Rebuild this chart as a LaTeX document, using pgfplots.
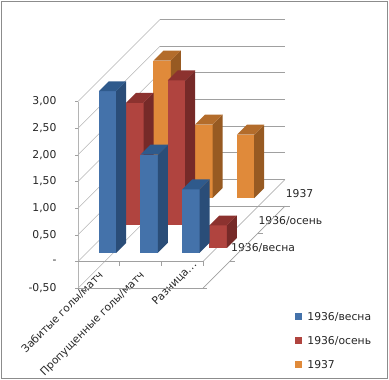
\documentclass[border=0pt]{standalone}
\usepackage{pgfplots}
\usepackage{fontspec}
\setmainfont{DejaVu Sans}
\pgfplotsset{compat=1.18}
\definecolor{bf}{HTML}{4472AA}\definecolor{bs}{HTML}{2A4D78}\definecolor{bt}{HTML}{2F5A8C}
\definecolor{rf}{HTML}{B0443F}\definecolor{rs}{HTML}{762A28}\definecolor{rt}{HTML}{8C322F}
\definecolor{of}{HTML}{E08A3A}\definecolor{os}{HTML}{975A22}\definecolor{ot}{HTML}{B36C2B}
\definecolor{wl}{HTML}{B4B4B4}\definecolor{gl}{HTML}{A0A0A0}
% x0 x1 y0 y1 bottom top colourprefix
\newcommand{\barfaces}[7]{%
\addplot3[fill=#7f,draw=none,forget plot] coordinates {(#1,#3,#5) (#2,#3,#5) (#2,#3,#6) (#1,#3,#6)};
\addplot3[fill=#7s,draw=none,forget plot] coordinates {(#2,#3,#5) (#2,#4,#5) (#2,#4,#6) (#2,#3,#6)};
\addplot3[fill=#7t,draw=none,forget plot] coordinates {(#1,#3,#6) (#2,#3,#6) (#2,#4,#6) (#1,#4,#6)};
}
\newcommand{\wline}[3][wl]{\addplot3[draw=#1,line width=#2,forget plot] coordinates {#3};}
\newcommand{\raz}{Разница.\kern0.5pt.\kern0.5pt.\hspace*{-15pt}}
\begin{document}
\begin{tikzpicture}[x=1pt,y=1pt]
\path[use as bounding box] (0,0) rectangle (389,380);
\draw[draw=gray!90,line width=0.9pt] (1,1.5) rectangle (387,379);
\begin{axis}[
  anchor=origin, at={(78pt,118.5pt)},
  x={(41.67pt,0pt)}, y={(27.33pt,27.33pt)}, z={(0pt,53.33pt)},
  xmin=0,xmax=3,ymin=0,ymax=3,zmin=-0.5,zmax=3,
  clip=false,
  axis line style={draw=none},
  major tick length=0pt,
  tick style={draw=none},
  ztick={-0.5,0,0.5,1,1.5,2,2.5,3},
  zticklabels={{-0,50},{-\hspace{6pt}},{0,50},{1,00},{1,50},{2,00},{2,50},{3,00}},
  xtick={0.5,1.5,2.5},
  xticklabels={{Забитые голы/матч},{Пропущенные голы/матч},{\raz}},
  ytick={0.5,1.5,2.5},
  yticklabels={{1936/весна},{1936/осень},{1937}},
  tick label style={font=\fontsize{10.8}{12}\selectfont,text=black!85},
  xticklabel style={rotate=45,anchor=north east,xshift=15.5pt,yshift=17pt,font=\fontsize{10.7}{12}\selectfont},
  yticklabel style={anchor=west,xshift=11pt,yshift=26.5pt},
  zticklabel style={anchor=east,xshift=-18pt},
  legend style={at={(axis cs:5.2,0,0)},anchor=north west,draw=none,fill=none,
    font=\fontsize{10.8}{12}\selectfont,text=black!85,row sep=10.5pt,inner sep=0pt,
    yshift=-48.5pt},
  legend cell align=left,
  legend image code/.code={\fill[#1,draw=none] (0pt,-3.5pt) rectangle (7pt,3.5pt);},
]
\addlegendimage{fill=bf}\addlegendentry{\hspace{3.5pt}1936/весна}
\addlegendimage{fill=rf}\addlegendentry{\hspace{3.5pt}1936/осень}
\addlegendimage{fill=of}\addlegendentry{\hspace{3.5pt}1937}
% left wall
\wline{0.5pt}{(0,0,-0.5) (0,0,3)}
\wline{0.5pt}{(0,0,-0.5) (0,3,-0.5)}
\wline{0.5pt}{(0,0,0) (0,3,0)}
\wline{0.5pt}{(0,0,0.5) (0,3,0.5)}
\wline{0.5pt}{(0,0,1) (0,3,1)}
\wline{0.5pt}{(0,0,1.5) (0,3,1.5)}
\wline{0.5pt}{(0,0,2) (0,3,2)}
\wline{0.5pt}{(0,0,2.5) (0,3,2.5)}
\wline{0.5pt}{(0,0,3) (0,3,3)}
% back wall
\wline[gl]{0.7pt}{(0,3,-0.5) (3,3,-0.5)}
\wline[gl]{0.7pt}{(0,3,0) (3,3,0)}
\wline[gl]{0.7pt}{(0,3,0.5) (3,3,0.5)}
\wline[gl]{0.7pt}{(0,3,1) (3,3,1)}
\wline[gl]{0.7pt}{(0,3,1.5) (3,3,1.5)}
\wline[gl]{0.7pt}{(0,3,2) (3,3,2)}
\wline[gl]{0.7pt}{(0,3,2.5) (3,3,2.5)}
\wline[gl]{0.7pt}{(0,3,3) (3,3,3)}
% floor and base
\wline[gl]{0.6pt}{(0,0,0) (3,0,0) (3,3,0)}
\wline[gl]{0.6pt}{(0,0,-0.5) (3.1,0,-0.5)}
\wline[gl]{0.6pt}{(3,0,-0.5) (3,3,-0.5)}
% ticks
\wline[gl]{0.6pt}{(-0.07,0,-0.5) (0,0,-0.5)}
\wline[gl]{0.6pt}{(-0.07,0,0) (0,0,0)}
\wline[gl]{0.6pt}{(-0.07,0,0.5) (0,0,0.5)}
\wline[gl]{0.6pt}{(-0.07,0,1) (0,0,1)}
\wline[gl]{0.6pt}{(-0.07,0,1.5) (0,0,1.5)}
\wline[gl]{0.6pt}{(-0.07,0,2) (0,0,2)}
\wline[gl]{0.6pt}{(-0.07,0,2.5) (0,0,2.5)}
\wline[gl]{0.6pt}{(-0.07,0,3) (0,0,3)}
\wline[gl]{0.6pt}{(1,0,0) (1,0,-0.08)}
\wline[gl]{0.6pt}{(2,0,0) (2,0,-0.08)}
\wline[gl]{0.6pt}{(3,0,0) (3,0,-0.08)}
\wline[gl]{0.6pt}{(3,1,-0.5) (3.12,1,-0.5)}
\wline[gl]{0.6pt}{(3,2,-0.5) (3.12,2,-0.5)}
\wline[gl]{0.6pt}{(3,3,-0.5) (3.12,3,-0.5)}
% 1937
\barfaces{0.291}{0.709}{2.318}{2.682}{0}{2.58}{o}
\barfaces{1.291}{1.709}{2.318}{2.682}{0}{1.38}{o}
\barfaces{2.291}{2.709}{2.318}{2.682}{0}{1.19}{o}
% 1936/osen
\barfaces{0.291}{0.709}{1.318}{1.682}{0}{2.30}{r}
\barfaces{1.291}{1.709}{1.318}{1.682}{0}{2.72}{r}
\barfaces{2.291}{2.709}{1.318}{1.682}{-0.42}{0}{r}
% 1936/vesna
\barfaces{0.291}{0.709}{0.318}{0.682}{0}{3.03}{b}
\barfaces{1.291}{1.709}{0.318}{0.682}{0}{1.84}{b}
\barfaces{2.291}{2.709}{0.318}{0.682}{0}{1.19}{b}
\end{axis}
\end{tikzpicture}
\end{document}
